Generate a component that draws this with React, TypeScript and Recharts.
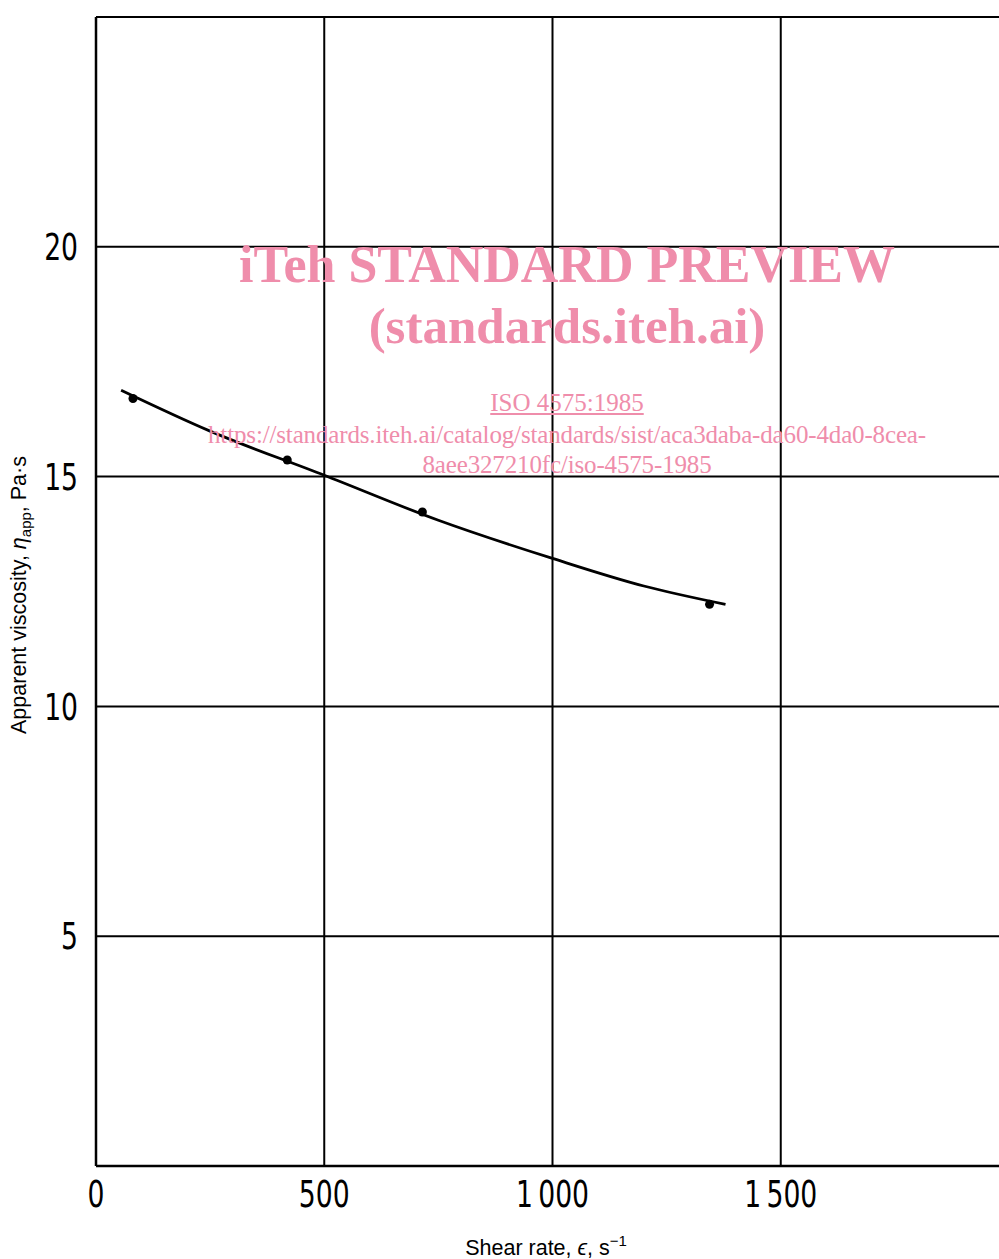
import {
  ComposedChart,
  Line,
  Scatter,
  XAxis,
  YAxis,
  CartesianGrid,
  Label,
} from "recharts";

// measured points
const shearRate = [81, 419, 715, 1344];
const viscosity = [16.7, 15.36, 14.23, 12.22];

// hand-drawn fitted curve
const fitShearRate = [55, 250, 500, 750, 1000, 1200, 1379];
const fitViscosity = [16.88, 15.99, 15.03, 14.05, 13.22, 12.62, 12.22];

const xTicks = [0, 500, 1000, 1500, 2000];
const yTicks = [0, 5, 10, 15, 20, 25];

const points = shearRate.map((x, i) => ({ x, y: viscosity[i] }));
const fit = fitShearRate.map((x, i) => ({ x, y: fitViscosity[i] }));

const TICK_FONT = "'DejaVu Sans Condensed', 'DejaVu Sans', sans-serif";
const LABEL_FONT = "'Liberation Sans', Arial, sans-serif";
const PINK = "#ef8dab";

const fmtX = (v: number) => {
  if (v === 2000) return "";
  if (v >= 1000) return `${Math.floor(v / 1000)}\u2009${String(v % 1000).padStart(3, "0")}`;
  return String(v);
};
const fmtY = (v: number) => (v === 0 || v === 25 ? "" : String(v));

// narrow the digits a bit, the original uses a condensed face
const XTick = ({ x, y, payload }: any) => (
  <text
    transform={`translate(${x},${y}) scale(0.8,1)`}
    textAnchor="middle"
    dy="0.71em"
    fontFamily={TICK_FONT}
    fontSize={37}
    fill="#000"
  >
    {fmtX(payload.value)}
  </text>
);

const YTick = ({ x, y, payload }: any) => (
  <text
    transform={`translate(${x},${y}) scale(0.8,1)`}
    textAnchor="end"
    dy="0.355em"
    fontFamily={TICK_FONT}
    fontSize={37}
    fill="#000"
  >
    {fmtY(payload.value)}
  </text>
);

const YTitle = () => (
  <text
    x={0}
    y={0}
    transform="translate(26, 595) rotate(-90)"
    textAnchor="middle"
    fontFamily={LABEL_FONT}
    fontSize={21.5}
    fill="#000"
  >
    Apparent viscosity,{" "}
    <tspan fontStyle="italic">η</tspan>
    <tspan dy={5} fontSize={15}>app</tspan>
    <tspan dy={-5}>,  Pa·s</tspan>
  </text>
);

const XTitle = () => (
  <text x={546} y={1255} textAnchor="middle" fontFamily={LABEL_FONT} fontSize={21.5} fill="#000">
    Shear rate, <tspan fontStyle="italic">ϵ</tspan>, s
    <tspan dy={-9} fontSize={15}>−1</tspan>
  </text>
);

export default function App() {
  return (
    <div
      style={{
        position: "absolute",
        left: 0,
        top: 0,
        width: 999,
        height: 1259,
        overflow: "hidden",
        background: "#fff",
      }}
    >
      <ComposedChart
        width={1020}
        height={1259}
        margin={{ top: 17, right: 11, bottom: 0, left: 0 }}
      >
        <CartesianGrid stroke="#000" strokeWidth={2} ticks={yTicks} />
        <XAxis
          type="number"
          dataKey="x"
          domain={[0, 2000]}
          ticks={xTicks}
          height={93}
          tickLine={false}
          tickSize={0}
          tickMargin={15}
          axisLine={{ stroke: "#000", strokeWidth: 2.5 }}
          tick={<XTick />}
          allowDataOverflow
        >
          <Label content={XTitle} />
        </XAxis>
        <YAxis
          type="number"
          dataKey="y"
          domain={[0, 25]}
          ticks={yTicks}
          width={96}
          tickLine={false}
          tickSize={0}
          tickMargin={18}
          axisLine={{ stroke: "#000", strokeWidth: 2.5 }}
          tick={<YTick />}
          allowDataOverflow
        >
          <Label content={YTitle} />
        </YAxis>
        <Line
          data={fit}
          dataKey="y"
          type="monotone"
          stroke="#000"
          strokeWidth={2.8}
          dot={false}
          activeDot={false}
          isAnimationActive={false}
        />
        <Scatter
          data={points}
          dataKey="y"
          fill="#000"
          shape={(p: any) => <circle cx={p.cx} cy={p.cy} r={4.5} fill="#000" />}
          isAnimationActive={false}
        />
      </ComposedChart>

      <div
        style={{
          position: "absolute",
          left: 0,
          top: 0,
          width: 999,
          height: 1259,
          pointerEvents: "none",
          color: PINK,
          fontFamily: "'Liberation Serif', 'Times New Roman', serif",
          textAlign: "center",
        }}
      >
        <div style={{ position: "absolute", left: 67, width: 1000, top: 235, fontSize: 52, fontWeight: "bold", lineHeight: "60px" }}>
          iTeh STANDARD PREVIEW
        </div>
        <div style={{ position: "absolute", left: 67, width: 1000, top: 296, fontSize: 51, fontWeight: "bold", lineHeight: "60px" }}>
          (standards.iteh.ai)
        </div>
        <div style={{ position: "absolute", left: 67, width: 1000, top: 388, fontSize: 25, lineHeight: "30px", textDecoration: "underline" }}>
          ISO 4575:1985
        </div>
        <div style={{ position: "absolute", left: 67, width: 1000, top: 420, fontSize: 25, lineHeight: "30px", letterSpacing: -0.15 }}>
          https://standards.iteh.ai/catalog/standards/sist/aca3daba-da60-4da0-8cea-
        </div>
        <div style={{ position: "absolute", left: 67, width: 1000, top: 450, fontSize: 25, lineHeight: "30px", letterSpacing: -0.15 }}>
          8aee327210fc/iso-4575-1985
        </div>
      </div>
    </div>
  );
}
